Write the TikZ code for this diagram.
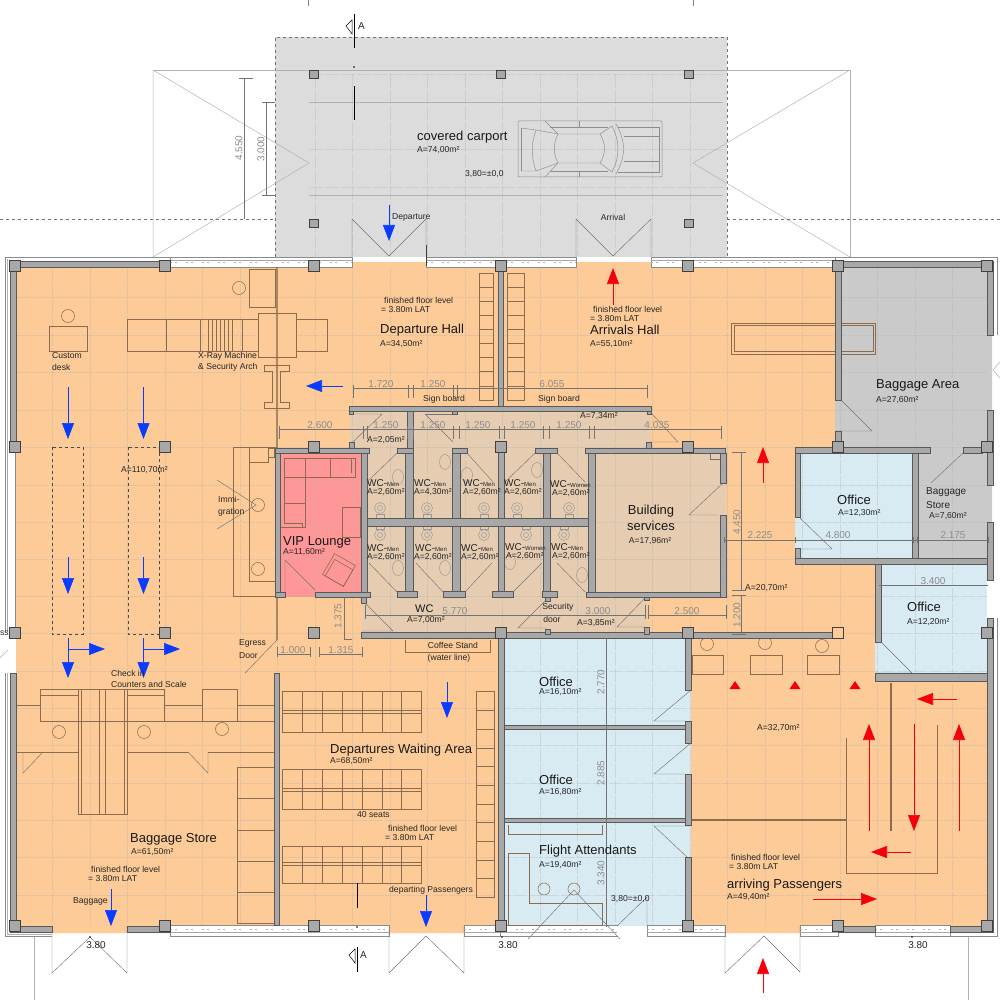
\documentclass[tikz,border=0pt]{standalone}
\usepackage{fontspec}
\setmainfont{Liberation Sans}
\usetikzlibrary{arrows.meta}
\definecolor{floororange}{HTML}{FDCB97}
\definecolor{wctan}{HTML}{E6CDB2}
\definecolor{vippink}{HTML}{FF9799}
\definecolor{officeblue}{HTML}{D8EAF2}
\definecolor{storegrey}{HTML}{CACACA}
\definecolor{portgrey}{HTML}{DCDCDC}
\definecolor{wallgrey}{HTML}{A8A8A8}
\definecolor{flowblue}{HTML}{0A3CFF}
\definecolor{flowred}{HTML}{F5000A}
\definecolor{furnline}{HTML}{8C6C4C}
\tikzset{
  wall/.style={fill=wallgrey,draw=black!65,line width=.4pt},
  column/.style={rectangle,fill=wallgrey,draw=black!75,line width=.6pt,minimum size=11pt,inner sep=0pt},
  furn/.style={draw=furnline,line width=.55pt},
  swing/.style={draw=black!55,line width=.45pt},
  grid/.style={draw=black!30,opacity=.35,line width=.5pt,dash pattern=on 14pt off 2pt},
  glass/.style={fill=white,draw=black!45,line width=.4pt},
  outline/.style={draw=black!30,line width=.5pt},
  sanitary/.style={draw=black!40,line width=.5pt},
  dimline/.style={draw=black!55,line width=.4pt},
  bluearrow/.style={draw=flowblue,line width=.6pt,-{Triangle[length=16pt,width=12pt,fill=flowblue]}},
  redarrow/.style={draw=flowred,line width=.6pt,-{Triangle[length=16pt,width=12pt,fill=flowred]}},
  lab/.style={anchor=west,inner sep=0pt,font=\fontsize{8.6}{10}\selectfont,text=black!85},
  bigtext/.style={anchor=west,inner sep=0pt,font=\fontsize{13}{15}\selectfont,text=black!90},
  dimtext/.style={inner sep=0pt,font=\fontsize{10}{12}\selectfont,text=black!45},
  smallmen/.style={anchor=west,inner sep=0pt,font=\fontsize{10}{12}\selectfont,text=black!85}
}
\newcommand{\wcname}[1]{WC-{\fontsize{6}{7}\selectfont #1}}
\begin{document}
\begin{tikzpicture}[x=1pt,y=-1pt]
\useasboundingbox (0,0) rectangle (1000,1000);

\fill[portgrey] (275,37) rectangle (727,257);
\draw[black!55,dashed,line width=.45pt] (275,257) -- (275,37) -- (727,37) -- (727,257);
\fill[floororange] (16,262) -- (835,262) -- (835,448) -- (795,448) -- (795,564) -- (875,564) -- (875,681) -- (988,681) -- (988,933) -- (16,933) -- cycle;
\fill[storegrey] (835,262) -- (992,262) -- (992,560) -- (918,560) -- (918,448) -- (835,448) -- cycle;
\fill[wctan] (350,408) -- (650,408) -- (650,448) -- (726,448) -- (726,597) -- (647,597) -- (647,635) -- (362,635) -- (362,597) -- (367,597) -- (367,448) -- (350,448) -- cycle;
\fill[vippink] (280,453) rectangle (361,597);
\fill[officeblue] (504,638) rectangle (691,926);
\fill[officeblue] (795,453) rectangle (912,558);
\fill[officeblue] (875,564) rectangle (987,676);

\foreach \gx in {52,90,127,165,202,240,277,315,352,390,427,465,502,540,577,615,652,690,727,765,802,840,877,915,952}
  \draw[grid] (\gx,268) -- (\gx,925);
\foreach \gy in {297,335,372,410,447,485,522,559,596,633,671,708,745,783,820,857,895}
  \draw[grid] (17,\gy) -- (987,\gy);
\foreach \gx in {315,352,390,427,465,502,540,577,615,652,690}
  \draw[grid] (\gx,74) -- (\gx,256);
\foreach \gy in {74,149,187}
  \draw[grid] (309,\gy) -- (723,\gy);

\draw[outline] (153,70) -- (850,70) -- (850,257);
\draw[outline] (153,257) -- (153,70) -- (309,163) -- (153,257);
\draw[outline] (850,70) -- (693,163) -- (850,257);
\draw[black!30,line width=.8pt] (309,102) -- (723,102);
\draw[black!30,line width=.8pt] (309,195) -- (723,195);
\draw[black!55,dashed,line width=.4pt] (0,219) -- (275,219);
\draw[black!55,dashed,line width=.4pt] (727,219) -- (1000,219);
\draw[black!50,line width=.5pt] (308,0) -- (308,6);
\draw[black!50,line width=.5pt] (693,0) -- (693,6);
\draw[outline] (34,936) -- (34,1000);
\draw[outline] (968,936) -- (968,1000);
\draw[outline] (1000,362) -- (993,370) -- (1000,378);

\draw[dimline] (243.7,78) -- (243.7,219);
\draw[dimline] (239,78) -- (253,78);
\draw[dimline] (265.7,102) -- (265.7,195);
\draw[dimline] (262,102) -- (275,102);
\draw[dimline] (262,195) -- (275,195);
\node[dimtext,rotate=90] (dimroofa) at (239,148) {4.550};
\node[dimtext,rotate=90] (dimroofb) at (261,149) {3.000};

\draw[black!45,rounded corners=1pt,line width=.5pt] (518,121) rectangle (662,177);
\draw[black!45,line width=.45pt] (521,128) -- (536,130) -- (558,134) -- (600,134) -- (612,126);
\draw[black!45,line width=.45pt] (521,171) -- (536,171) -- (558,163) -- (600,163) -- (612,172);
\draw[black!45,line width=.45pt] (521,128) -- (521,171);
\draw[black!45,line width=.45pt] (536,130) .. controls (531,144) and (531,157) .. (536,171);
\draw[black!45,line width=.45pt] (558,134) .. controls (553,144) and (553,153) .. (558,163);
\draw[black!45,line width=.45pt] (600,134) .. controls (606,144) and (606,153) .. (600,163);
\draw[black!45,line width=.45pt] (612,126) .. controls (620,142) and (620,156) .. (612,172);
\draw[black!45,line width=.45pt] (616,124) .. controls (626,142) and (626,156) .. (616,174);
\draw[black!45,line width=.45pt] (545,121) -- (558,134);
\draw[black!45,line width=.45pt] (545,177) -- (558,163);
\draw[black!45,line width=.45pt] (579,121) -- (579,127) -- (608,127);
\draw[black!45,line width=.45pt] (579,177) -- (579,171) -- (608,171);
\draw[black!45,line width=.45pt] (550,127) -- (579,127);
\draw[black!45,line width=.45pt] (550,171) -- (579,171);
\draw[black!45,line width=.45pt] (618,127) -- (659,127) -- (659,172) -- (618,172);
\draw[black!45,line width=.45pt] (624,136) -- (659,136);
\draw[black!45,line width=.45pt] (624,161) -- (659,161);

\foreach \xa/\xb in {170/352,426/576,651/835} {
  \draw[glass] (\xa,257) rectangle (\xb,267);
  \draw[black!35,line width=.4pt] (\xa,260) -- (\xb,260);
  \draw[black!30,dash pattern=on 2pt off 3pt on 2pt off 9pt,line width=.4pt] (\xa,262) -- (\xb,262);
}
\foreach \xa/\xb in {170/389,500/617,647/725,800/838,875/950,464/500} {
  \draw[glass] (\xa,925) rectangle (\xb,936);
  \draw[black!35,line width=.4pt] (\xa,932) -- (\xb,932);
  \draw[black!30,dash pattern=on 2pt off 3pt on 2pt off 9pt,line width=.4pt] (\xa,929) -- (\xb,929);
}
\fill[white] (617,926) rectangle (647,936);
\fill[white] (0,450) rectangle (16,632);
\draw[black!45,line width=.4pt] (5,257) -- (5,450);
\draw[black!30,line width=.4pt] (7,259) -- (7,450);
\draw[black!45,line width=.4pt] (170,257) -- (5,257);
\draw[black!45,line width=.4pt] (5,450) -- (5,632);
\draw[black!35,line width=.4pt] (7,450) -- (7,632);
\draw[black!45,line width=.4pt] (15,450) -- (15,632);
\draw[black!45,line width=.4pt] (5,673) -- (5,936) -- (52,936);
\draw[black!30,line width=.4pt] (7,673) -- (7,934) -- (52,934);
\draw[black!45,line width=.4pt] (835,257) -- (997,257) -- (997,335);
\draw[black!45,line width=.4pt] (950,936) -- (997,936) -- (997,618);
\draw[black!30,line width=.4pt] (0,658) -- (8,650);

\draw[swing] (352,257) -- (352,219) -- (389,256) -- (426,219) -- (426,245);
\draw[black!75,line width=.6pt] (426,245) -- (426,266);
\draw[swing] (576,257) -- (576,219) -- (613,256) -- (651,219) -- (651,257);
\draw[swing] (52,926) -- (52,973) -- (90,937) -- (127,973) -- (127,926);
\draw[swing] (389,926) -- (389,973) -- (426,936) -- (464,973) -- (464,926);
\draw[swing] (725,926) -- (725,973) -- (764,936) -- (800,972) -- (800,926);
\draw[swing] (528,939) -- (574,890) -- (620,939);
\draw[swing] (617,926) -- (647,897) -- (647,926);

\draw[furn] (49,326) rectangle (87,351);
\draw[furn] (68,316) circle (6.5);
\draw[furn] (127,319) rectangle (327,351);
\foreach \gx in {166,200,208,212,216,220,224,228,232,242}
  \draw[furn] (\gx,319) -- (\gx,351);
\draw[furn,fill=floororange] (258,313) rectangle (296,357);
\draw[furn] (249,269) rectangle (275,307);
\draw[furn] (239,288) circle (6.5);
\draw[furn] (272,371) -- (264,371) -- (264,365) -- (289,365) -- (289,371) -- (280,371) -- (280,402) -- (289,402) -- (289,408) -- (264,408) -- (264,402) -- (272,402) -- cycle;
\draw[draw=furnline,opacity=.7,line width=2pt] (277,267) -- (277,640);
\draw[swing] (277,640) -- (245,673);
\draw[black!70,dashed,line width=.45pt] (52,447) rectangle (83,634);
\draw[black!70,dashed,line width=.45pt] (128,447) rectangle (159,634);
\draw[furn] (277,447) -- (233,447) -- (233,596) -- (277,596);
\draw[furn] (249,447) -- (249,581) -- (275,581);
\draw[furn] (249,462) -- (268,462) -- (268,448);
\draw[furn] (268,448) rectangle (274,457);
\draw[furn] (258,505) circle (6.5);
\draw[furn] (258,569) circle (6.5);
\draw[swing] (217,480) -- (256,505) -- (217,529);

\draw[furn] (78,689) rectangle (127,814);
\foreach \gx in {81,99,105,124}
  \draw[furn] (\gx,689) -- (\gx,814);
\draw[furn] (40,689) rectangle (164,721);
\draw[furn] (40,695) -- (78,695);
\draw[furn] (127,695) -- (164,695);
\draw[furn] (202,689) rectangle (237,721);
\draw[furn] (164,721) -- (274,721);
\draw[furn] (16,705) -- (40,705);
\draw[furn] (164,705) -- (202,705);
\draw[furn] (237,705) -- (274,705);
\draw[furn] (16,752) -- (78,752);
\draw[furn] (127,752) -- (188,752);
\draw[furn] (208,752) -- (274,752);
\draw[swing] (23,752) -- (23,773) -- (43,752);
\draw[swing] (188,752) -- (208,773) -- (208,752);
\draw[furn] (59,732) circle (6.5);
\draw[furn] (144,732) circle (6.5);
\draw[furn] (222,729) circle (6.5);
\draw[furn] (237,767) rectangle (274,923);
\foreach \gy in {798,830,861,892}
  \draw[furn] (237,\gy) -- (274,\gy);

\foreach \ya/\yb/\yc/\yd in {691/732/710/713,769/809/788/791,846/883/862/865} {
  \draw[furn] (282,\ya) rectangle (421,\yb);
  \draw[furn] (282,\yc) -- (421,\yc);
  \draw[furn] (282,\yd) -- (421,\yd);
  \foreach \gx in {302,322,342,362,382,401}
    \draw[furn] (\gx,\ya) -- (\gx,\yb);
}
\draw[furn] (476,691) rectangle (494,897);
\foreach \gy in {710,729,748,766,785,804,822,841,860,878}
  \draw[furn] (476,\gy) -- (494,\gy);
\draw[black,line width=1pt] (357,883) -- (357,908);

\draw[furn] (479,273) rectangle (493,400);
\draw[furn] (507,273) rectangle (524,400);
\foreach \gy in {287,301,315,329,343,357,371,386}{
  \draw[furn] (479,\gy) -- (493,\gy);
  \draw[furn] (507,\gy) -- (524,\gy);
}
\draw[furn] (405,640) -- (405,652) -- (490,652) -- (490,640);
\draw[furn] (692,655) rectangle (723,674);
\draw[furn] (750,655) rectangle (782,674);
\draw[furn] (807,655) rectangle (839,674);
\draw[furn] (707,644) circle (6.5);
\draw[furn] (765,643) circle (6.5);
\draw[furn] (822,646) circle (6.5);
\draw[furn] (731,323) rectangle (875,354);
\draw[furn] (734,325) rectangle (873,351);
\draw[furn] (846,738) -- (846,873) -- (937,873) -- (937,725);
\draw[draw=furnline,line width=1.2pt] (891,683) -- (891,831);
\draw[draw=furnline,line width=1.4pt] (692,820) -- (846,820);
\draw[furn] (508,825) -- (508,834) -- (602,834) -- (602,825);
\draw[furn] (508,853) -- (529,853) -- (529,903) -- (602,903) -- (602,925) -- (508,925) -- cycle;
\draw[furn] (544,889) circle (6);
\draw[furn] (574,889) circle (6);

\draw[furn] (284,458) -- (355,458) -- (355,477) -- (305,477) -- (305,527) -- (280,527);
\draw[furn] (284,458) -- (284,523) -- (302,523) -- (302,527);
\draw[furn] (284,477) -- (305,477);
\draw[furn] (284,503) -- (305,503);
\draw[furn] (305,458) -- (305,477);
\draw[furn] (330,458) -- (330,477);
\draw[furn] (351,458) -- (351,473);
\draw[furn] (342,507) rectangle (360,537);
\draw[furn,rotate around={-30:(339,570)}] (327,558) rectangle (351,582);
\draw[furn,rotate around={-30:(339,570)}] (330,563) rectangle (351,582);
\draw[swing] (285,592) -- (285,560) -- (315,590);

\foreach \tx in {380,427,484,517,569}{
  \draw[sanitary] (\tx,508) circle (5.5);
  \draw[sanitary] (\tx,508) circle (2.5);
  \draw[sanitary] (\tx-4,514) rectangle (\tx+4,518);
}
\foreach \tx in {380,427,484,526,564}{
  \draw[sanitary] (\tx,535) circle (5.5);
  \draw[sanitary] (\tx,535) circle (2.5);
  \draw[sanitary] (\tx-4,525) rectangle (\tx+4,529);
}
\foreach \tx/\ty in {398/477,445/462,467/475,537/470,398/568,445/568,510/562,582/575}
  \draw[sanitary] (\tx,\ty) ellipse (5.5 and 7.5);

\draw[swing] (353,414) -- (382,414) -- (353,442);
\draw[swing] (425,414) -- (453,442);
\draw[swing] (425,414) -- (452,414);
\draw[swing] (651,413) -- (678,442) -- (650,442);
\draw[swing] (369,480) -- (397,453);
\draw[swing] (467,453) -- (493,482);
\draw[swing] (535,453) -- (505,482);
\draw[swing] (557,453) -- (585,482);
\draw[swing] (369,563) -- (397,592);
\draw[swing] (416,563) -- (443,592);
\draw[swing] (492,563) -- (465,592);
\draw[swing] (542,563) -- (513,592);
\draw[swing] (557,563) -- (585,592);
\draw[swing] (723,483) -- (689,515) -- (717,515);
\draw[swing] (710,453) rectangle (720,459);
\draw[swing] (365,603) -- (393,631) -- (362,631);
\draw[swing] (545,601) -- (518,628) -- (547,628);
\draw[swing] (645,598) -- (617,627) -- (645,627);
\draw[swing] (691,690) -- (654,721) -- (685,721);
\draw[swing] (691,743) -- (654,774) -- (685,774);
\draw[swing] (691,826) -- (654,826) -- (687,857);
\draw[swing] (841,400) -- (872,431) -- (835,431);
\draw[swing] (800,518) -- (832,549) -- (795,549);
\draw[swing] (963,453) -- (931,483);
\draw[swing] (881,642) -- (912,673) -- (875,673);

\foreach \xa/\ya/\xb/\yb in {10/261/170/267,835/261/993/267,10/266/16/447,10/673/16/926,10/926/52/932,127/926/170/932,838/926/875/932,950/926/993/932,
  987/266/993/335,987/410/993/485,987/522/993/580,987/618/993/926,498/267/503/406,349/406/651/411,349/411/353/414,647/411/651/414,407/411/413/448,452/411/457/414,
  349/442/354/448,646/442/651/448,275/448/369/453,275/453/280/597,361/453/367/597,275/592/285/597,315/592/370/597,
  397/448/413/453,452/448/467/453,535/448/557/453,585/448/725/453,405/453/413/597,452/453/460/597,498/447/504/597,543/453/550/597,588/453/595/597,367/518/588/526,
  397/591/417/597,443/591/465/597,492/591/513/597,542/591/557/597,586/592/725/597,720/453/726/483,720/515/726/597,
  361/632/835/638,361/597/366/603,545/597/550/601,545/629/550/634,644/597/649/600,644/627/649/634,
  498/638/504/926,504/725/686/729,504/818/686/822,685/638/691/690,685/721/691/743,685/774/691/825,685/857/691/926,
  835/266/841/400,835/431/841/447,795/447/930/453,795/453/800/517,795/548/800/564,795/558/987/564,912/453/918/558,963/447/982/453,
  875/564/881/642,875/673/987/681,274/673/279/925}
  \draw[wall] (\xa,\ya) rectangle (\xb,\yb);

\foreach \cx/\cy in {15/266,165/266,314/266,501/266,688/266,838/266,987/266,15/447,165/447,314/447,501/447,688/447,838/447,987/447,15/633,165/633,314/633,501/633,688/633,987/633,15/926,165/926,314/926,501/926,688/926,838/926,987/926}
  \node[column] (col\cx-\cy) at (\cx,\cy) {};
\node[column,fill=floororange] (col832) at (838,633) {};
\foreach \cx/\cy in {314/74,501/74,689/74,314/223,689/223}
  \node[column,minimum size=8pt,minimum width=9pt] (post\cx-\cy) at (\cx,\cy) {};

\foreach \ya/\yb in {14/48,86/120}
  \draw[black,line width=1pt] (354,\ya) -- (354,\yb);
\fill[black] (354,67) circle (.8);
\draw[black,line width=.5pt] (352,20) -- (346,26) -- (352,34) -- cycle;
\draw[black,line width=1pt] (357,947) -- (357,972);
\draw[black,line width=.5pt] (355,949) -- (349,955) -- (355,963) -- cycle;
\fill[black] (357,927) circle (.8);
\foreach \dx in {90,502,912}
  \fill[black] (\dx,937) circle (.8);

\draw[dimline] (353,388) -- (647,388);
\foreach \dx in {353,408,413,453,457,647}
  \draw[dimline] (\dx,385) -- (\dx,398);
\draw[dimline] (279,429) -- (721,429);
\foreach \dx in {279,363,367,407,413,453,459,499,504,543,549,589,594,721}
  \draw[dimline] (\dx,426) -- (\dx,439);
\draw[dimline] (741,452) -- (741,590);
\draw[dimline] (741,595) -- (741,634);
\foreach \dy in {452,590,595,634}
  \draw[dimline] (732,\dy) -- (746,\dy);
\draw[dimline] (724,540) -- (988,540);
\foreach \dx in {724,795,913,917,988}
  \draw[dimline] (\dx,537) -- (\dx,543);
\draw[dimline] (879,585) -- (988,585);
\draw[dimline] (365,615) -- (645,615);
\draw[dimline] (648,615) -- (726,615);
\foreach \dx in {365,645,648,726}
  \draw[dimline] (\dx,605) -- (\dx,619);
\draw[dimline] (344,597) -- (344,639);
\draw[dimline] (344,639) -- (352,639);
\draw[dimline] (277,654) -- (310,654);
\draw[dimline] (319,654) -- (362,654);
\foreach \dx in {277,310,319,362}
  \draw[dimline] (\dx,647) -- (\dx,657);
\draw[dimline] (605.7,638) -- (605.7,927);

\node[dimtext] (dima) at (381,384) {1.720};
\node[dimtext] (dimb) at (433,384) {1.250};
\node[dimtext] (dimc) at (552,384) {6.055};
\node[dimtext] (dimd) at (320,425) {2.600};
\node[dimtext] (dime) at (386,425) {1.250};
\node[dimtext] (dimf) at (433,425) {1.250};
\node[dimtext] (dimg) at (478,425) {1.250};
\node[dimtext] (dimh) at (523,425) {1.250};
\node[dimtext] (dimi) at (569,425) {1.250};
\node[dimtext] (dimj) at (657,425) {4.035};
\node[dimtext,rotate=90] (dimk) at (737,522) {4.450};
\node[dimtext,rotate=90] (diml) at (737,615) {1.200};
\node[dimtext] (dimm) at (760,535) {2.225};
\node[dimtext] (dimn) at (838,535) {4.800};
\node[dimtext] (dimo) at (953,535) {2.175};
\node[dimtext] (dimp) at (933,581) {3.400};
\node[dimtext] (dimq) at (455,611) {5.770};
\node[dimtext] (dimr) at (598,611) {3.000};
\node[dimtext] (dims) at (687,611) {2.500};
\node[dimtext,rotate=90] (dimt) at (338,616) {1.375};
\node[dimtext] (dimu) at (293,650) {1.000};
\node[dimtext] (dimv) at (341,650) {1.315};
\node[dimtext,rotate=90] (dimw) at (601,682) {2.770};
\node[dimtext,rotate=90] (dimx) at (601,773) {2.885};
\node[dimtext,rotate=90] (dimy) at (601,873) {3.340};

\draw[bluearrow] (389,205) -- (389,241);
\draw[bluearrow] (68,387) -- (68,439);
\draw[bluearrow] (143.5,387) -- (143.5,439);
\draw[bluearrow] (68,557) -- (68,594);
\draw[bluearrow] (143.5,557) -- (143.5,594);
\draw[bluearrow] (68,638) -- (68,678);
\draw[bluearrow] (143.5,638) -- (143.5,678);
\draw[bluearrow] (68,649) -- (105,649);
\draw[bluearrow] (143.5,649) -- (180,649);
\draw[bluearrow] (343,386) -- (306,386);
\draw[bluearrow] (447,682) -- (447,718);
\draw[bluearrow] (426,895) -- (426,927);
\draw[bluearrow] (111,889) -- (111,926);

\draw[redarrow] (613,305) -- (613,268);
\draw[redarrow] (763,483) -- (763,447);
\draw[redarrow] (957,699) -- (917,699);
\draw[redarrow] (869,831) -- (869,724);
\draw[redarrow] (914,724) -- (914,831);
\draw[redarrow] (959,831) -- (959,724);
\draw[redarrow] (911,852) -- (871,852);
\draw[redarrow] (813,899) -- (877,899);
\draw[redarrow] (763,993) -- (763,958);
\foreach \rx in {735,795,855}
  \fill[flowred] (\rx-5.5,689) -- (\rx,681) -- (\rx+5.5,689) -- cycle;

\node[bigtext] (carport) at (417,137) {covered carport};
\node[lab] (carportarea) at (417,150) {A=74,00m²};
\node[lab] (carportlevel) at (465,174) {3,80=±0,0};
\node[lab] (departure) at (392,217) {Departure};
\node[lab,anchor=center] (arrival) at (613,217) {Arrival};
\node[lab] (sectiontop) at (358,26) {\fontsize{10}{12}\selectfont A};
\node[lab] (sectionbottom) at (360,955) {\fontsize{10}{12}\selectfont A};
\node[lab] (accessend) at (0,633) {ss};

\node[lab] (levela) at (384,300) {finished floor level};
\node[lab] (levelb) at (381,310) {= 3.80m LAT};
\node[bigtext] (dephall) at (380,330) {Departure Hall};
\node[lab] (dephallarea) at (380,344) {A=34,50m²};
\node[lab] (levelc) at (593,309) {finished floor level};
\node[lab] (leveld) at (590,319) {= 3.80m LAT};
\node[bigtext] (arrhall) at (590,330) {Arrivals Hall};
\node[lab] (arrhallarea) at (590,344) {A=55,10m²};
\node[bigtext] (bagarea) at (876,385) {Baggage Area};
\node[lab] (bagareasize) at (876,400) {A=27,60m²};
\node[lab] (signa) at (423,399) {Sign board};
\node[lab] (signb) at (538,399) {Sign board};
\node[lab] (wcentrya) at (580,416) {A=7,34m²};
\node[lab] (wcentryb) at (367,440) {A=2,05m²};
\node[lab] (customa) at (52,356) {Custom};
\node[lab] (customb) at (52,367) {desk};
\node[lab] (xraya) at (198,356) {X-Ray Machine};
\node[lab] (xrayb) at (198,367) {\& Security Arch};
\node[lab] (openarea) at (121,470) {A=110,70m²};
\node[lab] (immia) at (218,499) {Immi-};
\node[lab] (immib) at (218,512) {gration};
\node[lab] (egressa) at (239,643) {Egress};
\node[lab] (egressb) at (239,656) {Door};

\node[bigtext] (vip) at (283,542) {VIP Lounge};
\node[lab] (viparea) at (283,552) {A=11,60m²};
\node[smallmen] (wcua) at (367,483) {\wcname{Men}};
\node[lab] (wcuaa) at (367,492) {A=2,60m²};
\node[smallmen] (wcub) at (414,483) {\wcname{Men}};
\node[lab] (wcuba) at (414,492) {A=4,30m²};
\node[smallmen] (wcuc) at (463,483) {\wcname{Men}};
\node[lab] (wcuca) at (463,492) {A=2,60m²};
\node[smallmen] (wcud) at (504,483) {\wcname{Men}};
\node[lab] (wcuda) at (504,492) {A=2,60m²};
\node[smallmen] (wcue) at (550,484) {\wcname{Women}};
\node[lab] (wcuea) at (552,493) {A=2,60m²};
\node[smallmen] (wcla) at (367,548) {\wcname{Men}};
\node[lab] (wclaa) at (367,557) {A=2,60m²};
\node[smallmen] (wclb) at (415,548) {\wcname{Men}};
\node[lab] (wclba) at (414,557) {A=2,60m²};
\node[smallmen] (wclc) at (461,548) {\wcname{Men}};
\node[lab] (wclca) at (461,557) {A=2,60m²};
\node[smallmen] (wcld) at (505,547) {\wcname{Women}};
\node[lab] (wclda) at (506,556) {A=2,60m²};
\node[smallmen] (wcle) at (551,547) {\wcname{Men}};
\node[lab] (wclea) at (552,556) {A=2,60m²};

\node[bigtext,anchor=center] (servicesa) at (651,511) {Building};
\node[bigtext,anchor=center] (servicesb) at (651,526) {services};
\node[lab,anchor=center] (servicesarea) at (650,541) {A=17,96m²};
\node[bigtext,font=\fontsize{11}{13}\selectfont] (wclobby) at (415,609) {WC};
\node[lab] (wclobbyarea) at (407,620) {A=7,00m²};
\node[lab,anchor=center] (secdoora) at (558,607) {Security};
\node[lab,anchor=center] (secdoorb) at (552,619) {door};
\node[lab] (secarea) at (577,623) {A=3,85m²};
\node[lab,anchor=center] (coffeea) at (453,645) {Coffee Stand};
\node[lab,anchor=center] (coffeeb) at (449,658) {(water line)};

\node[bigtext] (officea) at (837,500) {Office};
\node[lab] (officeaarea) at (838,513) {A=12,30m²};
\node[lab,font=\fontsize{10}{12}\selectfont] (bagstorea) at (926,492) {Baggage};
\node[lab,font=\fontsize{10}{12}\selectfont] (bagstoreb) at (926,505) {Store};
\node[lab] (bagstorearea) at (929,516) {A=7,60m²};
\node[lab] (corridorarea) at (745,588) {A=20,70m²};
\node[bigtext] (officeb) at (907,607) {Office};
\node[lab] (officebarea) at (907,622) {A=12,20m²};
\node[bigtext] (officec) at (539,682) {Office};
\node[lab] (officecarea) at (539,692) {A=16,10m²};
\node[bigtext] (officed) at (539,780) {Office};
\node[lab] (officedarea) at (539,792) {A=16,80m²};
\node[bigtext] (flight) at (539,851) {Flight Attendants};
\node[lab] (flightarea) at (539,865) {A=19,40m²};
\node[lab] (flightlevel) at (611,899) {3,80=±0,0};

\node[lab] (claimarea) at (757,728) {A=32,70m²};
\node[lab] (levele) at (731,857) {finished floor level};
\node[lab] (levelf) at (729,867) {= 3.80m LAT};
\node[bigtext] (arriving) at (727,885) {arriving Passengers};
\node[lab] (arrivingarea) at (727,897) {A=49,40m²};

\node[bigtext] (waiting) at (330,750) {Departures Waiting Area};
\node[lab] (waitingarea) at (330,761) {A=68,50m²};
\node[lab] (seats) at (357,815) {40 seats};
\node[lab] (levelg) at (388,828) {finished floor level};
\node[lab] (levelh) at (385,838) {= 3.80m LAT};
\node[lab] (departing) at (389,890) {departing Passengers};
\node[lab] (checka) at (111,673) {Check in};
\node[lab] (checkb) at (111,684) {Counters and Scale};
\node[bigtext] (bagstore) at (130,839) {Baggage Store};
\node[lab] (bagstorebig) at (131,852) {A=61,50m²};
\node[lab] (leveli) at (91,869) {finished floor level};
\node[lab] (levelj) at (88,879) {= 3.80m LAT};
\node[lab] (baggage) at (73,901) {Baggage};
\node[lab,anchor=center,font=\fontsize{10}{12}\selectfont] (heighta) at (96,945) {3.80};
\node[lab,anchor=center,font=\fontsize{10}{12}\selectfont] (heightb) at (508,945) {3.80};
\node[lab,anchor=center,font=\fontsize{10}{12}\selectfont] (heightc) at (918,945) {3.80};
\end{tikzpicture}
\end{document}
